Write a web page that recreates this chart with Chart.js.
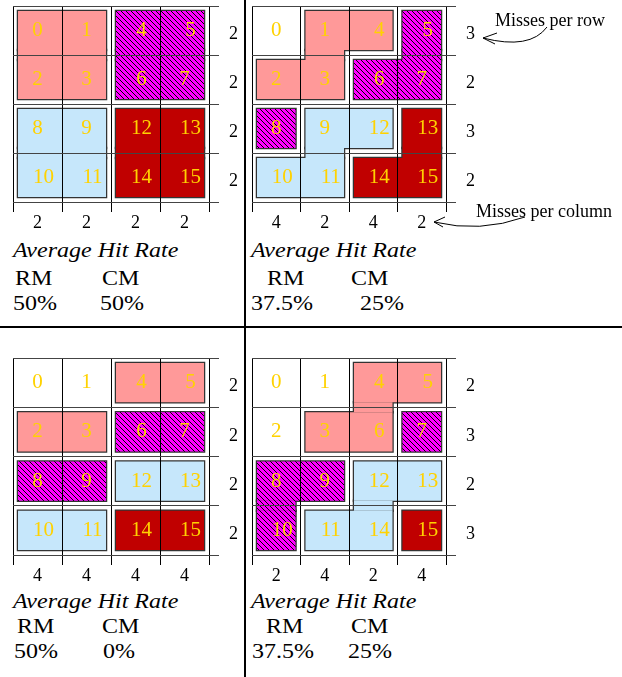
<!DOCTYPE html>
<html>
<head>
<meta charset="utf-8">
<script src="https://cdn.jsdelivr.net/npm/chart.js@4.4.0/dist/chart.umd.min.js"></script>
<style>
body { margin: 0; background: #fff; }
#page { position: relative; width: 622px; height: 677px; overflow: hidden; font-family: 'Liberation Serif', serif; }
canvas { position: absolute; }
.sep { position: absolute; background: #000; }
.t { position: absolute; font-size: 20px; line-height: 20px; white-space: nowrap; transform: scaleX(1.2); transform-origin: 0 0; color: #000; }
.t.i { font-style: italic; }
</style>
</head>
<body>
<div id="page">
  <canvas id="pA" width="245" height="232" style="left:0;top:0"></canvas>
  <canvas id="pB" width="376" height="232" style="left:246px;top:0"></canvas>
  <canvas id="pC" width="245" height="233" style="left:0;top:352px"></canvas>
  <canvas id="pD" width="376" height="233" style="left:246px;top:352px"></canvas>
  <div class="sep" style="left:244px;top:0;width:2px;height:677px"></div>
  <div class="sep" style="left:0;top:326px;width:622px;height:2px"></div>
</div>
<script>
// cell ids laid out in the 4x4 grid
const cellNumbers = [[0, 1, 4, 5], [2, 3, 6, 7], [8, 9, 12, 13], [10, 11, 14, 15]];

// misses per row / per column
const rowMissA = ['2', '2', '2', '2'], colMissA = ['2', '2', '2', '2'];
const rowMissB = ['3', '2', '3', '2'], colMissB = ['4', '2', '4', '2'];
const rowMissC = ['2', '2', '2', '2'], colMissC = ['4', '4', '4', '4'];
const rowMissD = ['2', '3', '2', '3'], colMissD = ['2', '4', '2', '4'];

// groups: [set, cells in the group]
const groupsA = [[0, [0, 1, 2, 3]], [1, [4, 5, 6, 7]], [2, [8, 9, 10, 11]], [3, [12, 13, 14, 15]]];
const groupsB = [[0, [1, 4, 2, 3]], [1, [5, 6, 7]], [1, [8]], [2, [9, 12, 10, 11]], [3, [13, 14, 15]]];
const groupsC = [[0, [4, 5]], [0, [2, 3]], [1, [6, 7]], [1, [8, 9]], [2, [12, 13]], [2, [10, 11]], [3, [14, 15]]];
const groupsD = [[0, [4, 5, 3, 6]], [1, [7]], [1, [8, 9, 10]], [2, [12, 13, 11, 14]], [3, [15]]];

// average hit rate
const hitRM = ['50%', '37.5%', '50%', '37.5%'];
const hitCM = ['50%', '25%', '0%', '25%'];

const serif = 'Liberation Serif';

// crisp "\" hatch on magenta
function hatch() {
  const s = 5, c = document.createElement('canvas');
  c.width = s; c.height = s;
  const g = c.getContext('2d');
  const img = g.createImageData(s, s);
  for (let y = 0; y < s; y++) {
    for (let x = 0; x < s; x++) {
      const k = (y * s + x) * 4, dark = (x - y + s) % s === 0;
      img.data[k] = dark ? 0 : 255;
      img.data[k + 1] = 0;
      img.data[k + 2] = dark ? 0 : 255;
      img.data[k + 3] = 255;
    }
  }
  g.putImageData(img, 0, 0);
  return c;
}

function setFill(ctx, set) {
  if (set === 1) return ctx.createPattern(hatch(), 'repeat');
  return ['#ff9999', null, '#c6e7fb', '#c00000'][set];
}

// rectangles (one per row run plus connectors) for a group of cells
function groupRects(cells, xs, ys) {
  const rows = {};
  cells.forEach(n => {
    cellNumbers.forEach((row, r) => {
      const c = row.indexOf(n);
      if (c >= 0) (rows[r] = rows[r] || []).push(c);
    });
  });
  const pad = 5, rects = [], byRow = {};
  Object.keys(rows).forEach(k => {
    const r = +k, cs = rows[k];
    const c0 = Math.min(...cs), c1 = Math.max(...cs) + 1;
    const rc = [xs.getPixelForValue(c0) + pad, ys.getPixelForValue(r) + pad,
                xs.getPixelForValue(c1) - pad, ys.getPixelForValue(r + 1) - pad];
    byRow[r] = rc;
    rects.push(rc);
  });
  Object.keys(byRow).forEach(k => {
    const a = byRow[k], b = byRow[+k + 1];
    if (!b) return;
    const l = Math.max(a[0], b[0]), rr = Math.min(a[2], b[2]);
    if (rr > l) rects.push([l, a[3], rr, b[1]]);
  });
  return rects;
}

function arrow(ctx, pts, tip, arms) {
  ctx.beginPath();
  ctx.moveTo(pts[0], pts[1]);
  ctx.quadraticCurveTo(pts[2], pts[3], tip[0], tip[1]);
  ctx.moveTo(arms[0], arms[1]); ctx.lineTo(tip[0], tip[1]); ctx.lineTo(arms[2], arms[3]);
  ctx.stroke();
}

const cellPlugin = {
  id: 'cells',
  beforeDraw(chart) {
    const o = chart.options.plugins.cells;
    const ctx = chart.ctx, xs = chart.scales.x, ys = chart.scales.y;
    o.groups.forEach(([set, cells]) => {
      const rects = groupRects(cells, xs, ys);
      ctx.save();
      ctx.strokeStyle = '#333';
      ctx.lineWidth = 2.5;
      rects.forEach(r => ctx.strokeRect(r[0], r[1], r[2] - r[0], r[3] - r[1]));
      ctx.fillStyle = setFill(ctx, set);
      rects.forEach(r => ctx.fillRect(r[0], r[1], r[2] - r[0], r[3] - r[1]));
      ctx.restore();
    });
  },
  afterDraw(chart) {
    const o = chart.options.plugins.cells;
    const ctx = chart.ctx, xs = chart.scales.x, ys = chart.scales.y;
    ctx.save();
    ctx.font = '21px ' + serif;
    ctx.fillStyle = '#ffd200';
    ctx.textAlign = 'center';
    ctx.textBaseline = 'middle';
    cellNumbers.forEach((row, r) => row.forEach((n, c) => {
      const nudge = (n >= 10 || (n >= 4 && n <= 6)) ? 6 : 0;
      ctx.fillText(String(n), xs.getPixelForValue(c + 0.5) + nudge, ys.getPixelForValue(r + 0.5));
    }));
    if (o.notes) {
      ctx.fillStyle = '#000';
      ctx.textAlign = 'left';
      ctx.textBaseline = 'alphabetic';
      ctx.font = '18px ' + serif;
      ctx.fillText('Misses per row', 249, 26);
      ctx.fillText('Misses per column', 230, 217);
      ctx.strokeStyle = '#000';
      ctx.lineWidth = 1;
      arrow(ctx, [301, 27, 284, 50], [237, 38], [251, 33, 249, 44]);
      arrow(ctx, [279, 217, 234, 233], [188, 222], [199, 217, 197, 227]);
    }
    ctx.restore();
  }
};

function makePanel(id, groups, rowMiss, colMiss, pad, notes) {
  const gridColor = col => c => (c.tick && c.tick.value % 1 === 0) ? col : 'rgba(0,0,0,0)';
  const tickFont = { family: serif, size: 18 };
  new Chart(document.getElementById(id), {
    type: 'scatter',
    data: { datasets: [] },
    options: {
      responsive: false,
      animation: false,
      layout: { padding: pad },
      plugins: {
        legend: { display: false },
        tooltip: { enabled: false },
        cells: { groups: groups, notes: notes }
      },
      scales: {
        x: {
          type: 'linear', position: 'bottom', min: 0, max: 4,
          afterFit: s => { s.height = 30; s.paddingLeft = 0; s.paddingRight = 0; },
          ticks: {
            stepSize: 0.5, autoSkip: false, maxRotation: 0, padding: 0,
            color: '#000', font: tickFont,
            callback: v => (v % 1 ? colMiss[Math.floor(v)] : '')
          },
          grid: { color: gridColor('#000'), tickLength: 10, lineWidth: 1 },
          border: { display: false }
        },
        y: {
          type: 'linear', position: 'right', min: 0, max: 4, reverse: true,
          afterFit: s => { s.width = 36; s.paddingTop = 0; s.paddingBottom = 0; },
          ticks: {
            stepSize: 0.5, autoSkip: false, padding: 10, labelOffset: 4,
            color: '#000', font: tickFont,
            callback: v => (v % 1 ? rowMiss[Math.floor(v)] : '')
          },
          grid: { color: gridColor('#444'), tickLength: 10, lineWidth: 1 },
          border: { display: false }
        }
      }
    },
    plugins: [cellPlugin]
  });
}

makePanel('pA', groupsA, rowMissA, colMissA, { left: 13, top: 6, right: 0, bottom: 0 }, false);
makePanel('pB', groupsB, rowMissB, colMissB, { left: 6, top: 6, right: 140, bottom: 0 }, true);
makePanel('pC', groupsC, rowMissC, colMissC, { left: 13, top: 6, right: 0, bottom: 0 }, false);
makePanel('pD', groupsD, rowMissD, colMissD, { left: 6, top: 6, right: 140, bottom: 0 }, false);

// text under each panel: [x, baseline] for title, RM, CM, RM value, CM value
const textPos = [
  [[13, 257], [15, 285], [102, 285], [13, 310], [100, 310]],
  [[251, 257], [267, 285], [351, 285], [251, 310], [360, 310]],
  [[13, 608], [17, 633], [102, 633], [14, 658], [103, 658]],
  [[251, 608], [266, 633], [351, 633], [252, 658], [348, 658]]
];
const page = document.getElementById('page');
function addText(str, pos, italic) {
  const d = document.createElement('div');
  d.className = 't' + (italic ? ' i' : '');
  d.textContent = str;
  d.style.left = pos[0] + 'px';
  d.style.top = (pos[1] - 16.75) + 'px';
  page.appendChild(d);
}
textPos.forEach((p, i) => {
  addText('Average Hit Rate', p[0], true);
  addText('RM', p[1]);
  addText('CM', p[2]);
  addText(hitRM[i], p[3]);
  addText(hitCM[i], p[4]);
});
</script>
</body>
</html>
